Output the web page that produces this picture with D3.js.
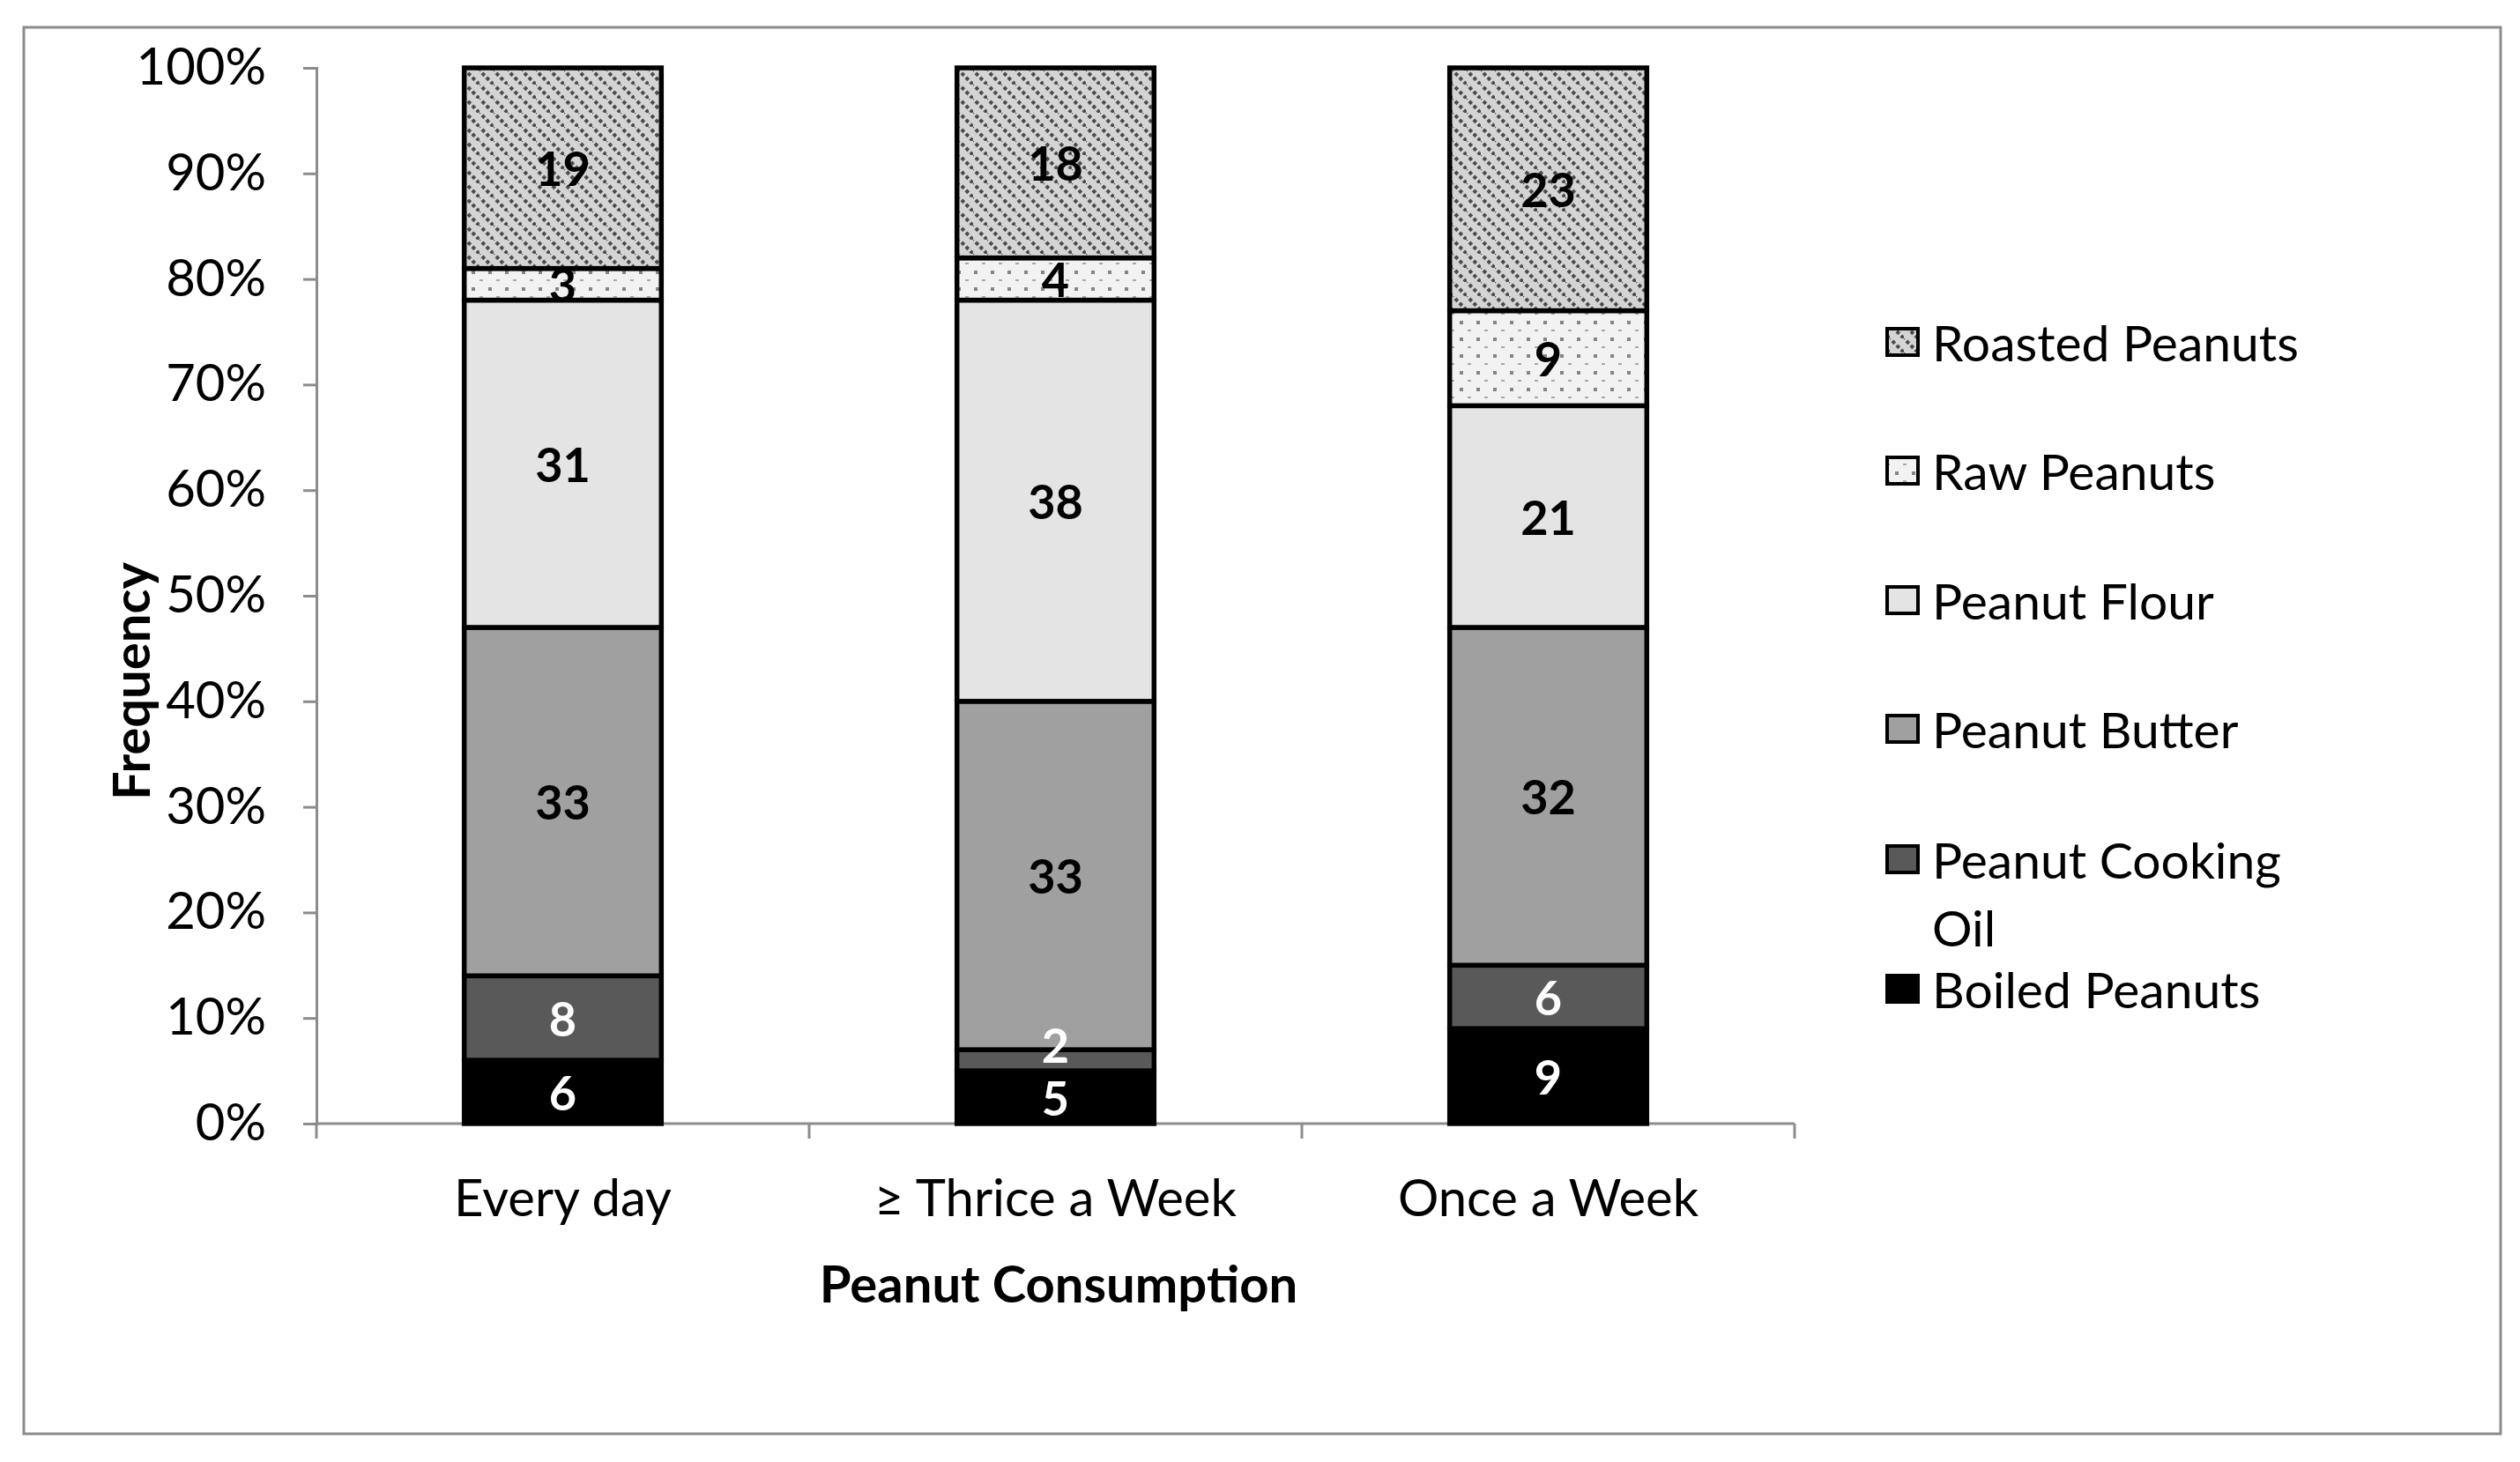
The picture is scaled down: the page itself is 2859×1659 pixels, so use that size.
<!DOCTYPE html>
<html>
<head>
<meta charset="utf-8">
<script src="https://cdn.jsdelivr.net/npm/d3@7"></script>
<style>
  html,body{margin:0;padding:0;background:#fff;}
  text{font-family:Lato,"Open Sans",sans-serif;}
</style>
</head>
<body>
<svg id="chart" width="2859" height="1659"></svg>
<script>
// data
const categories=["Every day","\u2265 Thrice a Week","Once a Week"];
const seriesNames=["Boiled Peanuts","Peanut Cooking Oil","Peanut Butter","Peanut Flour","Raw Peanuts","Roasted Peanuts"];
const boiledPeanuts=[6,5,9];
const cookingOil=[8,2,6];
const peanutButter=[33,33,32];
const peanutFlour=[31,38,21];
const rawPeanuts=[3,4,9];
const roastedPeanuts=[19,18,23];
const yTicks=[0,10,20,30,40,50,60,70,80,90,100];
const legendOrder=["Roasted Peanuts","Raw Peanuts","Peanut Flour","Peanut Butter","Peanut Cooking Oil","Boiled Peanuts"];

const seriesValues=[boiledPeanuts,cookingOil,peanutButter,peanutFlour,rawPeanuts,roastedPeanuts];
const table=categories.map((c,i)=>{
  const row={category:c};
  seriesNames.forEach((s,j)=>row[s]=seriesValues[j][i]);
  return row;
});

const svg=d3.select("#chart");
const defs=svg.append("defs");

// roasted: diagonal dashed hatch
const pRoast=defs.append("pattern").attr("id","pRoast")
  .attr("patternUnits","userSpaceOnUse").attr("width",16).attr("height",16);
pRoast.append("rect").attr("width",16).attr("height",16).attr("fill","#d4d4d4");
pRoast.append("line").attr("x1",-2).attr("y1",-2).attr("x2",18).attr("y2",18)
  .attr("stroke","#4a4a4a").attr("stroke-width",4).attr("stroke-dasharray","4 3");

// raw: dotted
const pRaw=defs.append("pattern").attr("id","pRaw")
  .attr("patternUnits","userSpaceOnUse").attr("width",19).attr("height",19);
pRaw.append("rect").attr("width",19).attr("height",19).attr("fill","#f2f2f2");
pRaw.append("rect").attr("x",3).attr("y",3).attr("width",4).attr("height",4).attr("fill","#858585");
pRaw.append("rect").attr("x",12).attr("y",13).attr("width",4).attr("height",2).attr("fill","#a8a8a8");

const fills={
  "Boiled Peanuts":"#000000",
  "Peanut Cooking Oil":"#595959",
  "Peanut Butter":"#a0a0a0",
  "Peanut Flour":"#e4e4e4",
  "Raw Peanuts":"url(#pRaw)",
  "Roasted Peanuts":"url(#pRoast)"
};
const labelColor={"Boiled Peanuts":"#fff","Peanut Cooking Oil":"#fff"};

// outer frame
svg.append("rect").attr("x",27).attr("y",31).attr("width",2810).attr("height",1596)
  .attr("fill","none").attr("stroke","#8c8c8c").attr("stroke-width",3);

const plotL=359,plotR=2036,plotT=77,plotB=1275;

const x=d3.scaleBand().domain(categories).range([plotL,plotR])
  .paddingInner(0.6).paddingOuter(0.3);
const y=d3.scaleLinear().domain([0,100]).range([plotB,plotT]);

const stack=d3.stack().keys(seriesNames);
const layers=stack(table);

// y axis
const yAxis=d3.axisLeft(y).tickValues(yTicks).tickFormat(d=>d+"%").tickSize(15).tickPadding(42);
const gy=svg.append("g").attr("transform",`translate(${plotL},0)`).call(yAxis);
gy.select(".domain").attr("stroke","#8c8c8c").attr("stroke-width",3);
gy.selectAll(".tick line").attr("stroke","#8c8c8c").attr("stroke-width",3);
gy.selectAll(".tick text").attr("font-size",58).attr("fill","#000")
  .style("font-family","Lato,sans-serif");

// x axis with boundary ticks
const gx=svg.append("g");
gx.append("line").attr("x1",plotL).attr("x2",plotR).attr("y1",plotB).attr("y2",plotB)
  .attr("stroke","#8c8c8c").attr("stroke-width",3);
const step=x.step();
d3.range(categories.length+1).forEach(i=>{
  const xx=plotL+i*step;
  gx.append("line").attr("x1",xx).attr("x2",xx).attr("y1",plotB).attr("y2",plotB+17)
    .attr("stroke","#8c8c8c").attr("stroke-width",3);
});
gx.selectAll("text.cat").data(categories).join("text").attr("class","cat")
  .attr("x",d=>x(d)+x.bandwidth()/2).attr("y",1357)
  .attr("text-anchor","middle").attr("dominant-baseline","central")
  .attr("font-size",58).text(d=>d);

// bars
const gBars=svg.append("g");
layers.forEach(layer=>{
  const key=layer.key;
  gBars.selectAll(null).data(layer).join("rect")
    .attr("x",d=>x(d.data.category))
    .attr("width",x.bandwidth())
    .attr("y",d=>y(d[1]))
    .attr("height",d=>y(d[0])-y(d[1]))
    .attr("fill",fills[key])
    .attr("stroke","#000").attr("stroke-width",5.5);
});
layers.forEach(layer=>{
  const key=layer.key;
  gBars.selectAll(null).data(layer).join("text")
    .attr("x",d=>x(d.data.category)+x.bandwidth()/2)
    // tiny segments: label sits on the upper edge so it clears the one below
    .attr("y",d=>(d[1]-d[0])<=2 ? y(d[1])-6 : (y(d[0])+y(d[1]))/2)
    .attr("text-anchor","middle").attr("dominant-baseline","central")
    .attr("font-size",54).attr("font-weight","bold")
    .attr("fill",labelColor[key]||"#000")
    .text(d=>d.data[key]);
});

// axis titles
svg.append("text").attr("x",1201).attr("y",1455)
  .attr("text-anchor","middle").attr("dominant-baseline","central")
  .attr("font-size",58).attr("font-weight","bold").text("Peanut Consumption");
svg.append("text").attr("transform","translate(147,773) rotate(-90)")
  .attr("text-anchor","middle").attr("dominant-baseline","central")
  .attr("font-size",58).attr("font-weight","bold").text("Frequency");

// legend
const legendY=[388,534,681,827,975,1122];
const gLeg=svg.append("g");
legendOrder.forEach((name,i)=>{
  const cy=legendY[i];
  gLeg.append("rect").attr("x",2141).attr("y",cy-15).attr("width",35).attr("height",30)
    .attr("fill",fills[name]).attr("stroke","#000").attr("stroke-width",4);
  if(name==="Peanut Cooking Oil"){
    gLeg.append("text").attr("x",2192).attr("y",cy).attr("dominant-baseline","central")
      .attr("font-size",57).text("Peanut Cooking");
    gLeg.append("text").attr("x",2192).attr("y",cy+77).attr("dominant-baseline","central")
      .attr("font-size",57).text("Oil");
  } else {
    gLeg.append("text").attr("x",2192).attr("y",cy).attr("dominant-baseline","central")
      .attr("font-size",57).text(name);
  }
});
</script>
</body>
</html>
